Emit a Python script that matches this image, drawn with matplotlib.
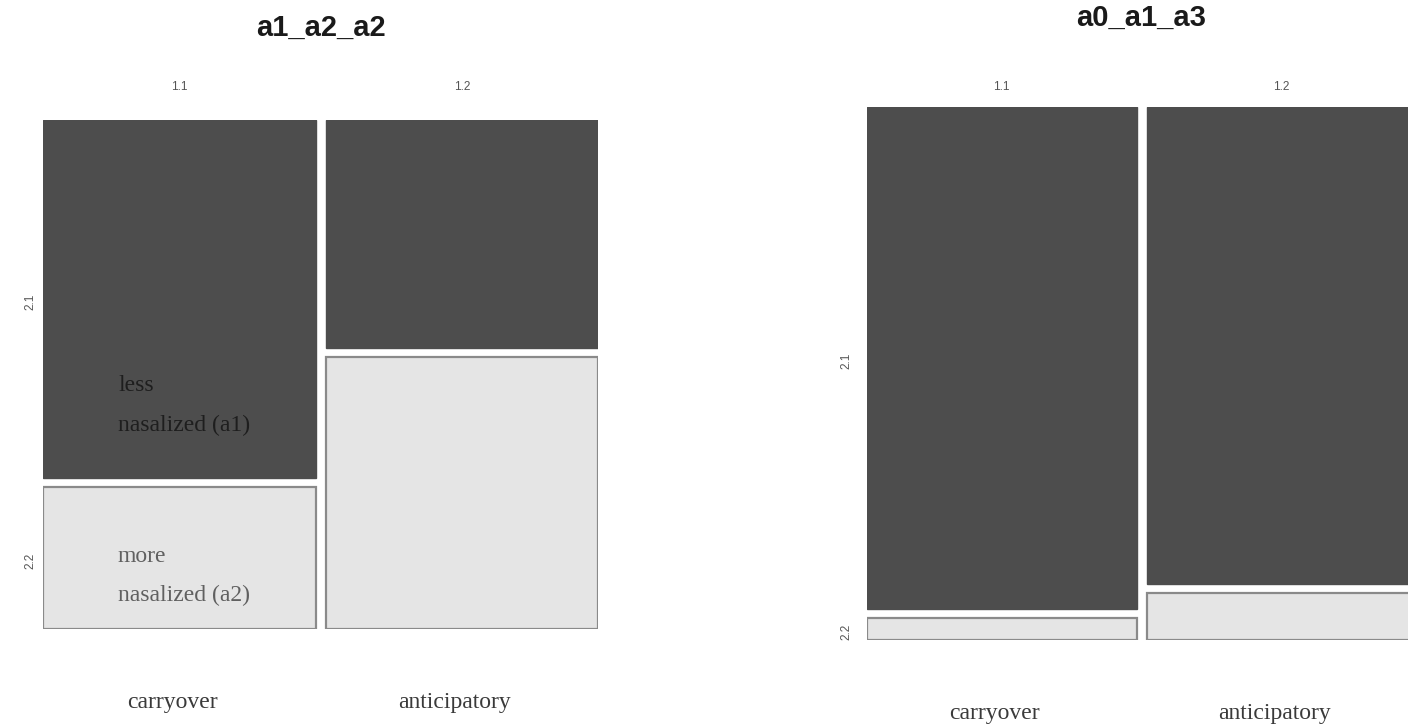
import matplotlib
matplotlib.use("Agg")
import matplotlib.pyplot as plt
from matplotlib.patches import Rectangle

# data: column share and share of the upper (dark) tile in each column
columns = ["carryover", "anticipatory"]
col_labels = ["1.1", "1.2"]
row_labels = ["2.1", "2.2"]

left_title = "a1_a2_a2"
left_col_share = [0.5, 0.5]
left_dark_share = [0.716, 0.456]

right_title = "a0_a1_a3"
right_col_share = [0.5, 0.5]
right_dark_share = [0.958, 0.910]

DARK = "#4d4d4d"
LIGHT = "#e5e5e5"
EDGE = "#8a8a8a"
SERIF = ["Liberation Serif", "DejaVu Serif"]
SANS = ["Liberation Sans Narrow", "Liberation Sans", "DejaVu Sans"]

FW, FH = 1408, 727


def draw_mosaic(fig, box, col_share, dark_share, title, title_y, lab_dx):
    # box = (left, top, width, height) in figure pixels
    x0, y0, W, H = box
    ax = fig.add_axes([x0 / FW, 1 - (y0 + H) / FH, W / FW, H / FH])
    ax.set_xlim(0, W)
    ax.set_ylim(H, 0)
    ax.axis("off")
    gx, gy = 10, 9
    cw_total = W - gx * (len(col_share) - 1)
    x = 0
    first_tiles = None
    for i, (cs, ds) in enumerate(zip(col_share, dark_share)):
        cw = cw_total * cs
        hd = (H - gy) * ds
        ax.add_patch(Rectangle((x, 0), cw, hd, facecolor=DARK,
                               edgecolor=DARK, lw=1.0))
        ax.add_patch(Rectangle((x, hd + gy), cw, H - hd - gy,
                               facecolor=LIGHT, edgecolor=EDGE, lw=1.6))
        ax.text(x + cw / 2, -(y0 - 87), col_labels[i], ha="center",
                va="center", fontsize=8.5, color="#555555",
                family=SANS, clip_on=False)
        ax.text(x + cw / 2 - 7, H + 74, columns[i], ha="center",
                va="center", fontsize=17, color="#3a3a3a",
                family=SERIF, clip_on=False)
        if i == 0:
            first_tiles = (hd / 2, hd + gy + (H - hd - gy) / 2)
        x += cw + gx
    for lab, yc in zip(row_labels, first_tiles):
        ax.text(lab_dx, yc + 3, lab, rotation=90, ha="center", va="center",
                fontsize=8.5, color="#555555", family=SANS, clip_on=False)
    ax.text(W / 2, -(y0 - title_y), title, ha="center", va="center",
            fontsize=21, fontweight="bold", color="#1a1a1a",
            family=SANS, clip_on=False)
    return ax


fig = plt.figure(figsize=(FW / 100, FH / 100), dpi=100)

axl = draw_mosaic(fig, (43, 120, 555, 509), left_col_share,
                  left_dark_share, left_title, 28, -13)
axl.text(75, 386 - 120, "less", ha="left", va="center", fontsize=17,
         color="#1e1e1e", family=SERIF)
axl.text(75, 425 - 120, "nasalized (a1)", ha="left", va="center",
         fontsize=17, color="#1e1e1e", family=SERIF)
axl.text(75, 557 - 120, "more", ha="left", va="center", fontsize=17,
         color="#606060", family=SERIF)
axl.text(75, 595 - 120, "nasalized (a2)", ha="left", va="center",
         fontsize=17, color="#606060", family=SERIF)

draw_mosaic(fig, (867, 107, 549, 533), right_col_share,
            right_dark_share, right_title, 18, -21)

fig.savefig("out.png", dpi=100, facecolor="white")
